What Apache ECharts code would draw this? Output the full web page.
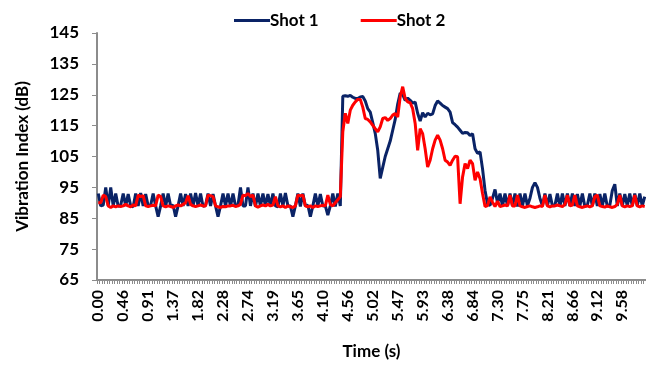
<!DOCTYPE html>
<html>
<head>
<meta charset="utf-8">
<script src="https://cdn.jsdelivr.net/npm/echarts@6/dist/echarts.min.js"></script>
<style>
html,body{margin:0;padding:0;background:#fff;}
#chart{width:646px;height:365px;}
</style>
</head>
<body>
<div id="chart"></div>
<script>
// time step between samples (s); categories are sample times
const timeStep = 0.0456;
const sampleCount = 220;
const yTicks = [65, 75, 85, 95, 105, 115, 125, 135, 145];

const shot1 = [
  93, 89, 89.3, 95, 89, 95, 89, 93, 88.8, 89.2,
  93, 89, 92.8, 89, 88.7, 93, 89, 93.2, 89, 92.8,
  89, 89.2, 93, 89, 85.5, 89, 93, 88.8, 93, 89,
  89.2, 85.5, 89, 93, 89, 92.8, 89, 93, 89,
  93.2, 89, 93, 88.8, 89.2, 93, 89, 92.8, 89, 85.5,
  89, 93, 89, 93, 88.8, 93, 89, 89.2, 95, 89,
  89, 95, 89, 93, 88.8, 93, 89, 93, 89,
  92.8, 89, 93, 89, 88.7, 93, 89, 93.2, 89, 89,
  85.5, 89, 93, 88.8, 93, 89, 89.2, 85.5, 89, 93,
  89, 92.8, 89, 89, 86, 89, 93, 88.8, 93, 89,
  124.5, 124.7, 124.5, 124.8, 124.2, 123.8, 123.8, 124.3, 124.4, 123,
  120.5, 119.4, 116, 112.5, 107, 97.9, 101.5, 105, 107.5, 110,
  113.5, 117, 122, 125.5, 125, 123.2, 123.9, 123.2, 122.3, 122.6,
  119, 116.5, 119.2, 117.8, 119, 118.5, 118.8, 121.5, 123, 122.3,
  121.5, 121, 120.5, 119.4, 116, 115.3, 114.5, 113.5, 112.5, 112.8,
  112.7, 111.8, 112.4, 107.5, 106, 106.5, 101, 94, 89.5, 89.2,
  91.5, 94.3, 90, 93, 89, 93, 89, 93, 89,
  93, 88.8, 93, 89, 93, 89, 91.5, 95, 96.5, 95,
  91.5, 89, 93, 89, 92.8, 89, 89.2, 93, 88.8, 93,
  89, 93, 89, 93, 89, 92.8, 89, 93, 88.8,
  89.2, 93, 89, 93, 89, 92.8, 89, 93, 88.8, 89.2,
  94, 96, 89, 93, 89, 92.8, 89, 93, 89, 93,
  89, 93, 89, 92
];

const shot2 = [
  90, 90, 92.5, 92, 89, 88.5, 89, 88.7, 89, 88.8,
  89, 89.5, 89, 88.7, 89.3, 89, 92.5, 92, 92.3, 89,
  88.8, 89, 89.2, 89, 92.5, 92, 89, 88.7, 89, 88.8,
  88.5, 89, 89.3, 89, 89.5, 90, 92.3, 89.5, 89,
  88.8, 89, 89.3, 89, 89, 92.5, 92.3, 92, 89, 88.7,
  88.5, 88.8, 88.7, 89, 89, 89.2, 88.8, 89, 89.5, 92.5,
  92.3, 93, 92, 92.5, 89, 88.6, 89, 89.3, 89,
  89.5, 89, 89.3, 92, 89, 88.7, 89, 88.5, 89, 88.7,
  88.5, 89, 92.5, 92.3, 92.5, 89, 88.7, 89, 88.5, 89,
  88.8, 89, 89.2, 89, 92.5, 89.5, 89, 90, 91, 92,
  113, 119, 115.7, 120, 121.6, 122.7, 123.5, 123.5, 121, 117.3,
  117, 116.2, 115.1, 114, 113, 114.6, 117.3, 117.6, 116.7, 117.3,
  118.4, 118.9, 117.8, 124.3, 127.6, 123.8, 122.7, 122.4, 120.5, 115.7,
  107, 114, 112.4, 107.5, 101.6, 103.8, 107.5, 110.3, 111.9, 110.3,
  107.5, 103.8, 103.2, 102.1, 103.8, 105.1, 104.9, 89.7, 98.4, 102.7,
  101.1, 103.8, 102.7, 97.3, 100, 97.8, 93, 88.8, 89.1, 91.9,
  90.2, 88.8, 90.5, 88.8, 89, 89.3, 89, 92.5, 89,
  89, 92.5, 89, 88.7, 88.5, 88.8, 89, 88.7, 88.5, 88.7,
  89, 88.8, 92.5, 89, 88.7, 89, 89, 89.3, 89,
  88.8, 89.5, 92.5, 89, 89.3, 92.5, 89, 88.7, 88.5, 88.8,
  89, 88.7, 89, 92, 92.5, 89, 88.8, 88.6, 89, 88.7,
  88.5, 88.8, 89.5, 92.5, 89, 88.7, 89, 88.8, 89, 92.5,
  89, 88.7, 89, 88.8
];

const categories = [];
for (let i = 0; i < sampleCount; i++) categories.push((i * timeStep).toFixed(2));

const FONT = 'Lato';
const chart = echarts.init(document.getElementById('chart'), null, {renderer: 'canvas'});
chart.setOption({
  animation: false,
  backgroundColor: '#ffffff',
  textStyle: {fontFamily: FONT},
  legend: {
    top: 7,
    left: 229,
    icon: 'rect',
    itemWidth: 36,
    itemHeight: 3,
    itemGap: 42,
    textStyle: {fontFamily: FONT, fontWeight: 'bold', fontSize: 17, color: '#000', padding: [0, 0, 0, -5]},
    data: ['Shot 1', 'Shot 2']
  },
  grid: {left: 97, right: 0, top: 33, bottom: 85, containLabel: false},
  xAxis: {
    type: 'category',
    data: categories,
    boundaryGap: true,
    name: 'Time (s)',
    nameLocation: 'middle',
    nameGap: 63,
    nameTextStyle: {fontFamily: FONT, fontWeight: 'bold', fontSize: 17, color: '#000'},
    axisLine: {show: true, lineStyle: {color: '#8c8c8c', width: 2}},
    axisTick: {show: true, interval: 0, length: 4, lineStyle: {color: '#8c8c8c', width: 1}},
    axisLabel: {interval: 9, rotate: 90, margin: 10, fontFamily: FONT, fontWeight: 'bold', fontSize: 16, color: '#000'},
    splitLine: {show: false}
  },
  yAxis: {
    type: 'value',
    min: yTicks[0],
    max: yTicks[yTicks.length - 1],
    interval: 10,
    name: 'Vibration Index (dB)',
    nameLocation: 'middle',
    nameGap: 66,
    nameRotate: 90,
    nameTextStyle: {fontFamily: FONT, fontWeight: 'bold', fontSize: 17, color: '#000'},
    axisLine: {show: true, lineStyle: {color: '#8c8c8c', width: 2}},
    axisTick: {show: true, length: 5, lineStyle: {color: '#8c8c8c', width: 1}},
    axisLabel: {margin: 18, fontFamily: FONT, fontWeight: 'bold', fontSize: 17, color: '#000'},
    splitLine: {show: false}
  },
  series: [
    {
      name: 'Shot 1', type: 'line', data: shot1, symbol: 'none', smooth: false,
      lineStyle: {color: '#0a2366', width: 3}, itemStyle: {color: '#0a2366'}
    },
    {
      name: 'Shot 2', type: 'line', data: shot2, symbol: 'none', smooth: false,
      lineStyle: {color: '#ff0000', width: 3}, itemStyle: {color: '#ff0000'}
    }
  ]
});
</script>
</body>
</html>
